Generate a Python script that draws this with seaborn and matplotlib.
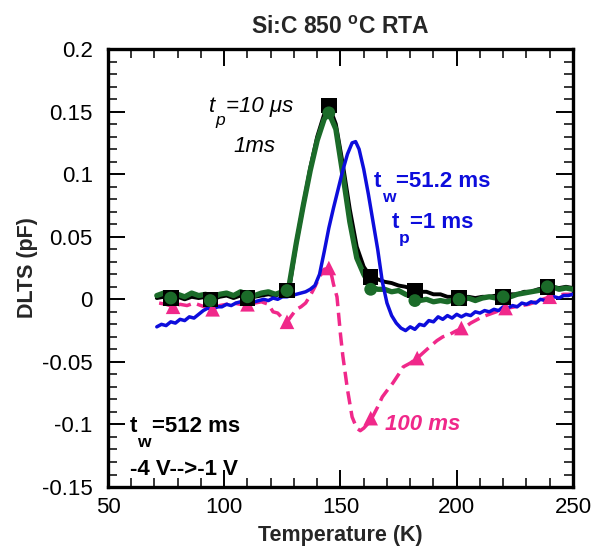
import matplotlib
matplotlib.use("Agg")
import matplotlib.pyplot as plt
from matplotlib.ticker import MultipleLocator, FuncFormatter
import pandas as pd
import seaborn as sns

# ---- data -------------------------------------------------------------
# t_w = 512 ms, t_p = 10 us (black line + squares)
black_T = [71, 74, 77, 80, 83, 86, 89, 92, 95, 98, 101, 104, 107, 110, 113, 116,
           119, 122, 125, 128, 131, 134, 137, 140, 143, 145, 148, 151, 154, 157,
           160, 163, 166, 169, 172, 175, 178, 181, 184, 187, 190, 193, 196, 199,
           202, 205, 208, 211, 214, 217, 220, 223, 226, 229, 232, 235, 238, 241,
           244, 247, 250]
black_y = [0.001, 0.002, 0.001, 0.002, 0.000, 0.002, 0.001, 0.002, 0.000, 0.002,
           0.003, 0.001, 0.003, 0.001, 0.002, 0.003, 0.004, 0.003, 0.005, 0.009,
           0.045, 0.075, 0.105, 0.130, 0.148, 0.155, 0.140, 0.108, 0.072, 0.042,
           0.026, 0.018, 0.016, 0.014, 0.013, 0.011, 0.010, 0.008, 0.006, 0.006,
           0.004, 0.004, 0.002, 0.002, 0.001, 0.002, 0.001, 0.002, 0.002, 0.003,
           0.002, 0.004, 0.004, 0.006, 0.006, 0.008, 0.009, 0.010, 0.009, 0.010,
           0.009]
square_T = [77, 94, 110, 127, 145, 163, 182, 201, 220, 239]
square_y = [0.001, 0.000, 0.001, 0.007, 0.155, 0.018, 0.007, 0.001, 0.002, 0.010]

# t_w = 512 ms, t_p = 1 ms (green line + circles)
green_T = black_T
green_y = [0.003, 0.005, 0.002, 0.004, 0.002, 0.005, 0.003, 0.004, 0.001, 0.004,
           0.005, 0.003, 0.006, 0.004, 0.003, 0.005, 0.006, 0.004, 0.006, 0.012,
           0.045, 0.075, 0.103, 0.127, 0.144, 0.149, 0.136, 0.100, 0.062, 0.033,
           0.020, 0.010, 0.008, 0.008, 0.006, 0.007, 0.004, 0.002, -0.001, 0.000,
           -0.002, -0.001, -0.002, 0.000, -0.001, 0.001, -0.001, 0.001, 0.002, 0.001,
           0.003, 0.002, 0.004, 0.005, 0.006, 0.007, 0.008, 0.010, 0.008, 0.009,
           0.008]
circle_T = [77, 94, 110, 127, 145, 163, 182, 201, 220, 239]
circle_y = [0.001, -0.001, 0.002, 0.007, 0.149, 0.008, -0.001, 0.000, 0.002, 0.010]

# t_w = 51.2 ms, t_p = 1 ms (blue line)
blue_T = [71, 73, 75, 77, 79, 81, 83, 85, 87, 89, 91, 93, 95, 97, 99, 101, 103,
          105, 107, 109, 111, 113, 115, 117, 119, 121, 123, 125, 127, 129, 131,
          133, 135, 137, 139, 141, 143, 145, 147, 149, 151, 153, 155, 156.5, 158,
          160, 162, 164, 166, 168, 170, 172, 174, 176, 178, 180, 182, 184, 186,
          188, 190, 192, 194, 196, 198, 200, 202, 204, 206, 208, 210, 212, 214,
          216, 218, 220, 222, 224, 226, 228, 230, 232, 234, 236, 238, 240, 242,
          244, 246, 248, 250]
blue_y = [-0.022, -0.020, -0.021, -0.018, -0.019, -0.016, -0.017, -0.014, -0.015,
          -0.012, -0.009, -0.007, -0.008, -0.006, -0.006, -0.004, -0.005, -0.003,
          -0.002, -0.003, -0.001, -0.002, -0.001, 0.000, -0.001, 0.001, 0.000,
          0.002, 0.002, 0.003, 0.004, 0.005, 0.006, 0.008, 0.011, 0.020, 0.038,
          0.057, 0.073, 0.088, 0.103, 0.116, 0.125, 0.126, 0.120, 0.104, 0.084,
          0.062, 0.040, 0.014, -0.003, -0.013, -0.019, -0.023, -0.025, -0.022,
          -0.024, -0.020, -0.021, -0.017, -0.018, -0.014, -0.016, -0.013, -0.015,
          -0.012, -0.014, -0.012, -0.013, -0.010, -0.011, -0.009, -0.010, -0.008,
          -0.009, -0.006, -0.007, -0.005, -0.006, -0.003, -0.004, -0.002, -0.003,
          0.000, -0.001, 0.001, 0.002, 0.001, 0.003, 0.003, 0.004]

# t_w = 100 ms (pink dashed line + triangles)
pink_T = [72, 75, 78, 81, 84, 87, 90, 93, 95, 98, 101, 104, 107, 110, 113, 116,
          119, 121, 123, 125, 127, 129, 131, 133, 135, 137, 139, 141, 143, 145.5,
          147, 148.5, 150, 151, 153, 155, 157, 158.5, 160, 162, 163.5, 166, 168,
          170, 172.5, 175, 177, 180, 183, 186, 189, 191.5, 194, 197, 200, 203,
          206, 209, 211, 214, 217, 220, 222, 225, 228, 231, 234, 237, 240, 243,
          246, 250]
pink_y = [-0.003, -0.004, -0.006, -0.004, -0.005, -0.003, -0.005, -0.007, -0.008,
          -0.005, -0.004, -0.003, -0.004, -0.004, -0.003, -0.002, -0.004, -0.010,
          -0.011, -0.015, -0.018, -0.013, -0.008, -0.006, -0.003, 0.003, 0.010,
          0.018, 0.024, 0.025, 0.012, 0.002, -0.028, -0.045, -0.072, -0.094,
          -0.103, -0.105, -0.103, -0.099, -0.095, -0.086, -0.078, -0.073, -0.067,
          -0.060, -0.054, -0.051, -0.047, -0.042, -0.037, -0.033, -0.030, -0.028,
          -0.025, -0.023, -0.019, -0.016, -0.014, -0.012, -0.010, -0.008, -0.007,
          -0.006, -0.005, -0.004, -0.002, 0.000, 0.002, 0.003, 0.004, 0.004]
triangle_T = [78, 95, 110, 127, 145, 163, 183, 202, 221, 240]
triangle_y = [-0.006, -0.008, -0.004, -0.018, 0.025, -0.095, -0.047, -0.023, -0.007, 0.002]

x_ticks = [50, 100, 150, 200, 250]
y_ticks = [-0.15, -0.1, -0.05, 0, 0.05, 0.1, 0.15, 0.2]

# ---- style ------------------------------------------------------------
sns.set_style("ticks")
plt.rcParams["font.family"] = ["Liberation Sans", "DejaVu Sans"]
plt.rcParams["axes.unicode_minus"] = False
plt.rcParams["mathtext.fontset"] = "custom"
plt.rcParams["mathtext.rm"] = "Liberation Sans"
plt.rcParams["mathtext.it"] = "Liberation Sans:italic"
plt.rcParams["mathtext.bf"] = "Liberation Sans:bold"

BLACK = "#000000"
GREEN = "#1b6b29"
BLUE = "#0d0ddc"
PINK = "#f0288a"

fig = plt.figure(figsize=(5.91, 5.49), dpi=100)
ax = fig.add_axes([0.1827, 0.1129, 0.7868, 0.7978])

# ---- lines ------------------------------------------------------------
pink_df = pd.DataFrame({"T": pink_T, "C": pink_y})
sns.lineplot(data=pink_df, x="T", y="C", ax=ax, color=PINK, lw=2.5,
             sort=False, estimator=None, zorder=2)
ax.lines[-1].set_dashes((3.8, 1.9))

sns.lineplot(x=black_T, y=black_y, ax=ax, color=BLACK, lw=2.8,
             sort=False, estimator=None, zorder=3)
sns.lineplot(x=green_T, y=green_y, ax=ax, color=GREEN, lw=3.8,
             sort=False, estimator=None, zorder=4)
sns.lineplot(x=blue_T, y=blue_y, ax=ax, color=BLUE, lw=2.5,
             sort=False, estimator=None, zorder=5)

# ---- markers ----------------------------------------------------------
sns.scatterplot(x=triangle_T, y=triangle_y, ax=ax, marker="^", s=110,
                color=PINK, edgecolor="none", linewidth=0, zorder=6)
sns.scatterplot(x=square_T, y=square_y, ax=ax, marker="s", s=125,
                color=BLACK, edgecolor="none", linewidth=0, zorder=7)
sns.scatterplot(x=circle_T, y=circle_y, ax=ax, marker="o", s=85,
                color=GREEN, edgecolor="none", linewidth=0, zorder=8)

# ---- axes -------------------------------------------------------------
ax.set_xlim(50, 250)
ax.set_ylim(-0.15, 0.2)
ax.set_xticks(x_ticks)
ax.set_yticks(y_ticks)
ax.xaxis.set_minor_locator(MultipleLocator(10))
ax.yaxis.set_minor_locator(MultipleLocator(0.01))
ax.yaxis.set_major_formatter(FuncFormatter(lambda v, p: "0" if abs(v) < 1e-9 else f"{v:g}"))
ax.tick_params(which="both", direction="in", top=True, right=True,
               colors="black", labelsize=16)
ax.tick_params(which="major", length=12, width=1.4, pad=7)
ax.tick_params(which="minor", length=6.5, width=1.1)
ax.tick_params(axis="y", which="major", pad=11)
for side in ax.spines.values():
    side.set_linewidth(2.4)
    side.set_color("black")

ax.set_xlabel("Temperature (K)", fontsize=15.5, fontweight="bold", labelpad=5)
ax.set_ylabel("DLTS (pF)", fontsize=15.5, fontweight="bold", labelpad=3)
ax.set_title(r"Si:C 850 $^{\mathbf{o}}$C RTA", fontsize=16.5,
             fontweight="bold", pad=11)

# ---- annotations ------------------------------------------------------
renderer = fig.canvas.get_renderer()
PX2PT = 72.0 / fig.dpi


def label_with_subscript(x, y, head, sub, tail, color, weight="normal",
                         style="normal", size=16, sub_size=12.5, drop=10):
    """Write head, a dropped subscript, then the tail, one after another."""
    kw = dict(color=color, fontweight=weight, style=style, va="baseline",
              ha="left", xycoords="data", textcoords="offset points")
    t1 = ax.annotate(head, (x, y), xytext=(0, 0), fontsize=size, **kw)
    w1 = t1.get_window_extent(renderer).width * PX2PT
    t2 = ax.annotate(sub, (x, y), xytext=(w1, -drop), fontsize=sub_size, **kw)
    w2 = t2.get_window_extent(renderer).width * PX2PT
    ax.annotate(tail, (x, y), xytext=(w1 + w2 + 0.5, 0), fontsize=size, **kw)


label_with_subscript(93.5, 0.150, "t", "p", "=10 μs", BLACK, style="italic")
ax.text(113, 0.118, "1ms", fontsize=16, style="italic", color=BLACK,
        ha="center", va="baseline")
label_with_subscript(164.5, 0.090, "t", "w", "=51.2 ms", BLUE, weight="bold",
                     drop=11)
label_with_subscript(172, 0.057, "t", "p", "=1 ms", BLUE, weight="bold",
                     drop=11)
ax.text(169, -0.1045, "100 ms", fontsize=16, fontweight="bold", style="italic",
        color=PINK, ha="left", va="baseline")
label_with_subscript(59.5, -0.106, "t", "w", "=512 ms", BLACK, weight="bold",
                     drop=11)
ax.text(59.5, -0.1405, "-4 V-->-1 V", fontsize=16, fontweight="bold",
        color=BLACK, ha="left", va="baseline")

fig.savefig("out.png", dpi=100)
